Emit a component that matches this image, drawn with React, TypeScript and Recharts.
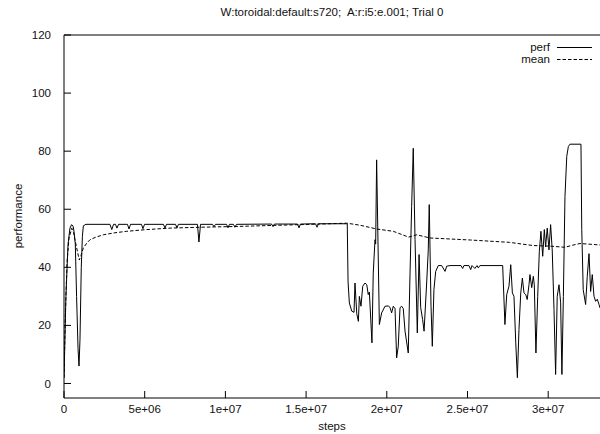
import React from 'react';
import { LineChart, Line, XAxis, YAxis } from 'recharts';

const title = 'W:toroidal:default:s720;  A:r:i5:e.001; Trial 0';
const xLabel = 'steps';
const yLabel = 'performance';
const seriesNames = ['perf', 'mean'];

const xTicks = [0, 5e6, 1e7, 1.5e7, 2e7, 2.5e7, 3e7];
const yTicks = [0, 20, 40, 60, 80, 100, 120];

// steps in millions
const perfSteps = [
  0, 0.12, 0.25, 0.37, 0.47, 0.56, 0.62, 0.7, 0.78, 0.87, 0.93, 0.99, 1.07, 1.14, 1.2, 1.36,
  2.23, 2.85, 2.96, 3.07, 3.19, 3.28, 3.38, 3.93, 4.03, 4.12, 4.8, 4.89, 4.99,
  6.16, 6.26, 6.35, 6.91, 7.0, 7.09, 8.27, 8.36, 8.46, 9.2, 9.29, 9.39,
  10.07, 10.16, 10.25, 10.5, 10.59, 10.69, 12.86, 12.95, 13.04, 14.47, 14.56, 14.65,
  15.58, 15.68, 15.77, 17.5, 17.55, 17.6, 17.68, 17.83, 17.97, 18.03, 18.14, 18.24,
  18.3, 18.4, 18.51, 18.65, 18.76, 18.85, 18.92, 19.08, 19.16, 19.27, 19.31, 19.37,
  19.54, 19.68, 19.89, 20.09, 20.2, 20.3, 20.4, 20.51, 20.61, 20.71, 20.82, 20.92,
  21.02, 21.13, 21.33, 21.44, 21.54, 21.64, 21.75, 21.89, 22.0, 22.1, 22.22, 22.31,
  22.47, 22.57, 22.63, 22.74, 22.82, 22.92, 23.03, 23.19, 23.4, 23.61, 23.71, 23.92,
  24.6, 24.7, 24.78, 25.09, 25.2, 25.28, 25.46, 25.59, 25.67, 25.77, 27.18, 27.32,
  27.43, 27.57, 27.68, 27.78, 27.88, 27.99, 28.09, 28.19, 28.3, 28.4, 28.5, 28.61,
  28.7, 28.81, 28.87, 28.98, 29.08, 29.14, 29.24, 29.35, 29.45, 29.55, 29.66, 29.76,
  29.84, 29.94, 30.05, 30.15, 30.25, 30.36, 30.46, 30.56, 30.67, 30.77, 30.85, 30.94,
  31.04, 31.15, 31.25, 31.35, 32.03, 32.08, 32.17, 32.32, 32.42, 32.53, 32.63, 32.73,
  32.84, 32.94, 33.04, 33.15, 33.21,
];
const perfValues = [
  2, 30, 48, 53.5, 54.7, 54.2, 52.4, 48, 30, 12, 6, 15, 40, 50.7, 54.3, 54.8,
  54.8, 54.8, 53.0, 54.8, 54.8, 53.5, 54.8, 54.8, 53.2, 54.8, 54.8, 53.3, 54.8,
  54.8, 53.5, 54.8, 54.8, 53.6, 54.8, 54.8, 48.7, 54.8, 54.8, 54.0, 54.8,
  54.8, 53.6, 54.8, 54.8, 53.8, 54.8, 54.9, 54.0, 54.9, 54.9, 53.6, 54.9,
  55.0, 53.8, 55.0, 55.0, 55.0, 35, 27.7, 24.9, 24.5, 34.6, 24, 21.4,
  30, 26.6, 33.5, 34.6, 34.0, 30.6, 31.5, 14, 38, 49.5, 48, 77,
  20.3, 24.3, 26.6, 26.7, 26.2, 24.3, 26.6, 25.8, 8.8, 12.8, 26.1, 26.6,
  25.8, 18, 10.5, 38, 61, 81, 49.5, 17.4, 44.4, 26.1, 22, 18,
  34.6, 46, 61.6, 26.6, 12.8, 32.3, 38.6, 40.6, 40.6, 38.6, 40.4, 40.6,
  40.6, 39.6, 40.6, 40.6, 39.2, 40.6, 39.6, 40.6, 39.8, 40.6, 40.6, 20.3,
  30.6, 33.5, 40.9, 31.2, 30, 14, 2.0, 18.6, 31.2, 36.3, 31.2, 30.6,
  28.9, 34, 37.5, 33, 36.9, 34, 10.5, 30, 45.5, 52.4, 43.8, 53,
  47, 53.5, 46, 54.7, 46, 25.4, 3.1, 30, 34, 28, 3.1, 30,
  64.4, 78.2, 81.6, 82.4, 82.4, 53, 32.3, 27.2, 36.9, 44.7, 31.7, 37.5,
  30, 28.3, 29, 27.2, 26,
];

const meanSteps = [
  0, 0.09, 0.19, 0.31, 0.48, 0.59, 0.68, 0.81, 0.95, 1.05, 1.2, 1.41, 1.61, 1.98, 2.43,
  3.16, 3.88, 5.12, 6.57, 8.43, 10.9, 13.38, 15.86, 17.53, 18.34, 19.37, 20.4, 21.35,
  21.85, 22.68, 25.2, 27.6, 29.06, 30.11, 31.04, 31.5, 31.97, 33.21,
];
const meanValues = [
  2, 25, 42, 50, 53.5, 52, 49.5, 46, 42.5, 44, 46.7, 48.3, 49.5, 50.4, 51.2,
  51.9, 52.4, 53.0, 53.5, 53.8, 54.1, 54.5, 54.9, 55.2, 54.5, 53.2, 52.4, 50.4,
  51.2, 50.1, 49.4, 48.6, 47.5, 47.3, 46.9, 47.6, 48.2, 47.7,
];

const perf = perfSteps.map((s, i) => ({ steps: s * 1e6, value: perfValues[i] }));
const mean = meanSteps.map((s, i) => ({ steps: s * 1e6, value: meanValues[i] }));

const xDomain = [0, 33210000];
const font = '"Liberation Sans", Arial, sans-serif';
const dash = '3.5 2';

const fmtSteps = (v: number) => {
  if (v === 0) return '0';
  const [m, e] = v.toExponential().split('e');
  return `${m}e${e[0]}${e.slice(1).padStart(2, '0')}`;
};

export default function App() {
  const tickStyle = { fontSize: 11.5, fill: '#111', fontFamily: font };
  return (
    <div style={{ position: 'absolute', left: 0, top: 0, width: 600, height: 434, background: '#fff', fontFamily: font, color: '#111', overflow: 'hidden' }}>
      <div style={{ position: 'absolute', left: 0, width: 664, top: 6, textAlign: 'center', fontSize: 11.5, whiteSpace: 'pre' }}>
        {title}
      </div>
      <LineChart width={600} height={434} margin={{ top: 0, right: 0, bottom: 0, left: 0 }}>
        <XAxis
          dataKey="steps"
          type="number"
          domain={xDomain}
          ticks={xTicks}
          interval={0}
          allowDataOverflow
          height={36}
          tickSize={-7}
          tickMargin={14}
          tickFormatter={fmtSteps}
          tick={tickStyle}
          stroke="#000"
        />
        <XAxis
          xAxisId="top"
          orientation="top"
          dataKey="steps"
          type="number"
          domain={xDomain}
          ticks={xTicks}
          interval={0}
          allowDataOverflow
          height={35}
          tickSize={-7}
          tick={false}
          stroke="#000"
        />
        <YAxis
          type="number"
          domain={[-5, 120]}
          ticks={yTicks}
          interval={0}
          allowDataOverflow
          width={64}
          tickSize={-7}
          tickMargin={20}
          tick={tickStyle}
          stroke="#000"
        />
        <Line data={mean} dataKey="value" name={seriesNames[1]} type="linear" stroke="#000" strokeWidth={1} strokeDasharray={dash} dot={false} isAnimationActive={false} />
        <Line data={perf} dataKey="value" name={seriesNames[0]} type="linear" stroke="#000" strokeWidth={1} dot={false} isAnimationActive={false} />
      </LineChart>
      {seriesNames.map((n, i) => (
        <div key={n} style={{ position: 'absolute', top: 41 + i * 11.5, left: 0, width: 600, height: 13, fontSize: 11.5 }}>
          <span style={{ position: 'absolute', right: 50, top: 0 }}>{n}</span>
          <svg style={{ position: 'absolute', left: 557, top: 0 }} width={36} height={13}>
            <line x1={0} x2={35} y1={6.5} y2={6.5} stroke="#000" strokeWidth={1} strokeDasharray={i === 1 ? dash : undefined} />
          </svg>
        </div>
      ))}
      <div style={{ position: 'absolute', left: 0, width: 664, top: 420, textAlign: 'center', fontSize: 11.5 }}>{xLabel}</div>
      <div style={{ position: 'absolute', left: 18, top: 216, fontSize: 11.5, transform: 'translate(-50%, -50%) rotate(-90deg)', whiteSpace: 'nowrap' }}>
        {yLabel}
      </div>
    </div>
  );
}
